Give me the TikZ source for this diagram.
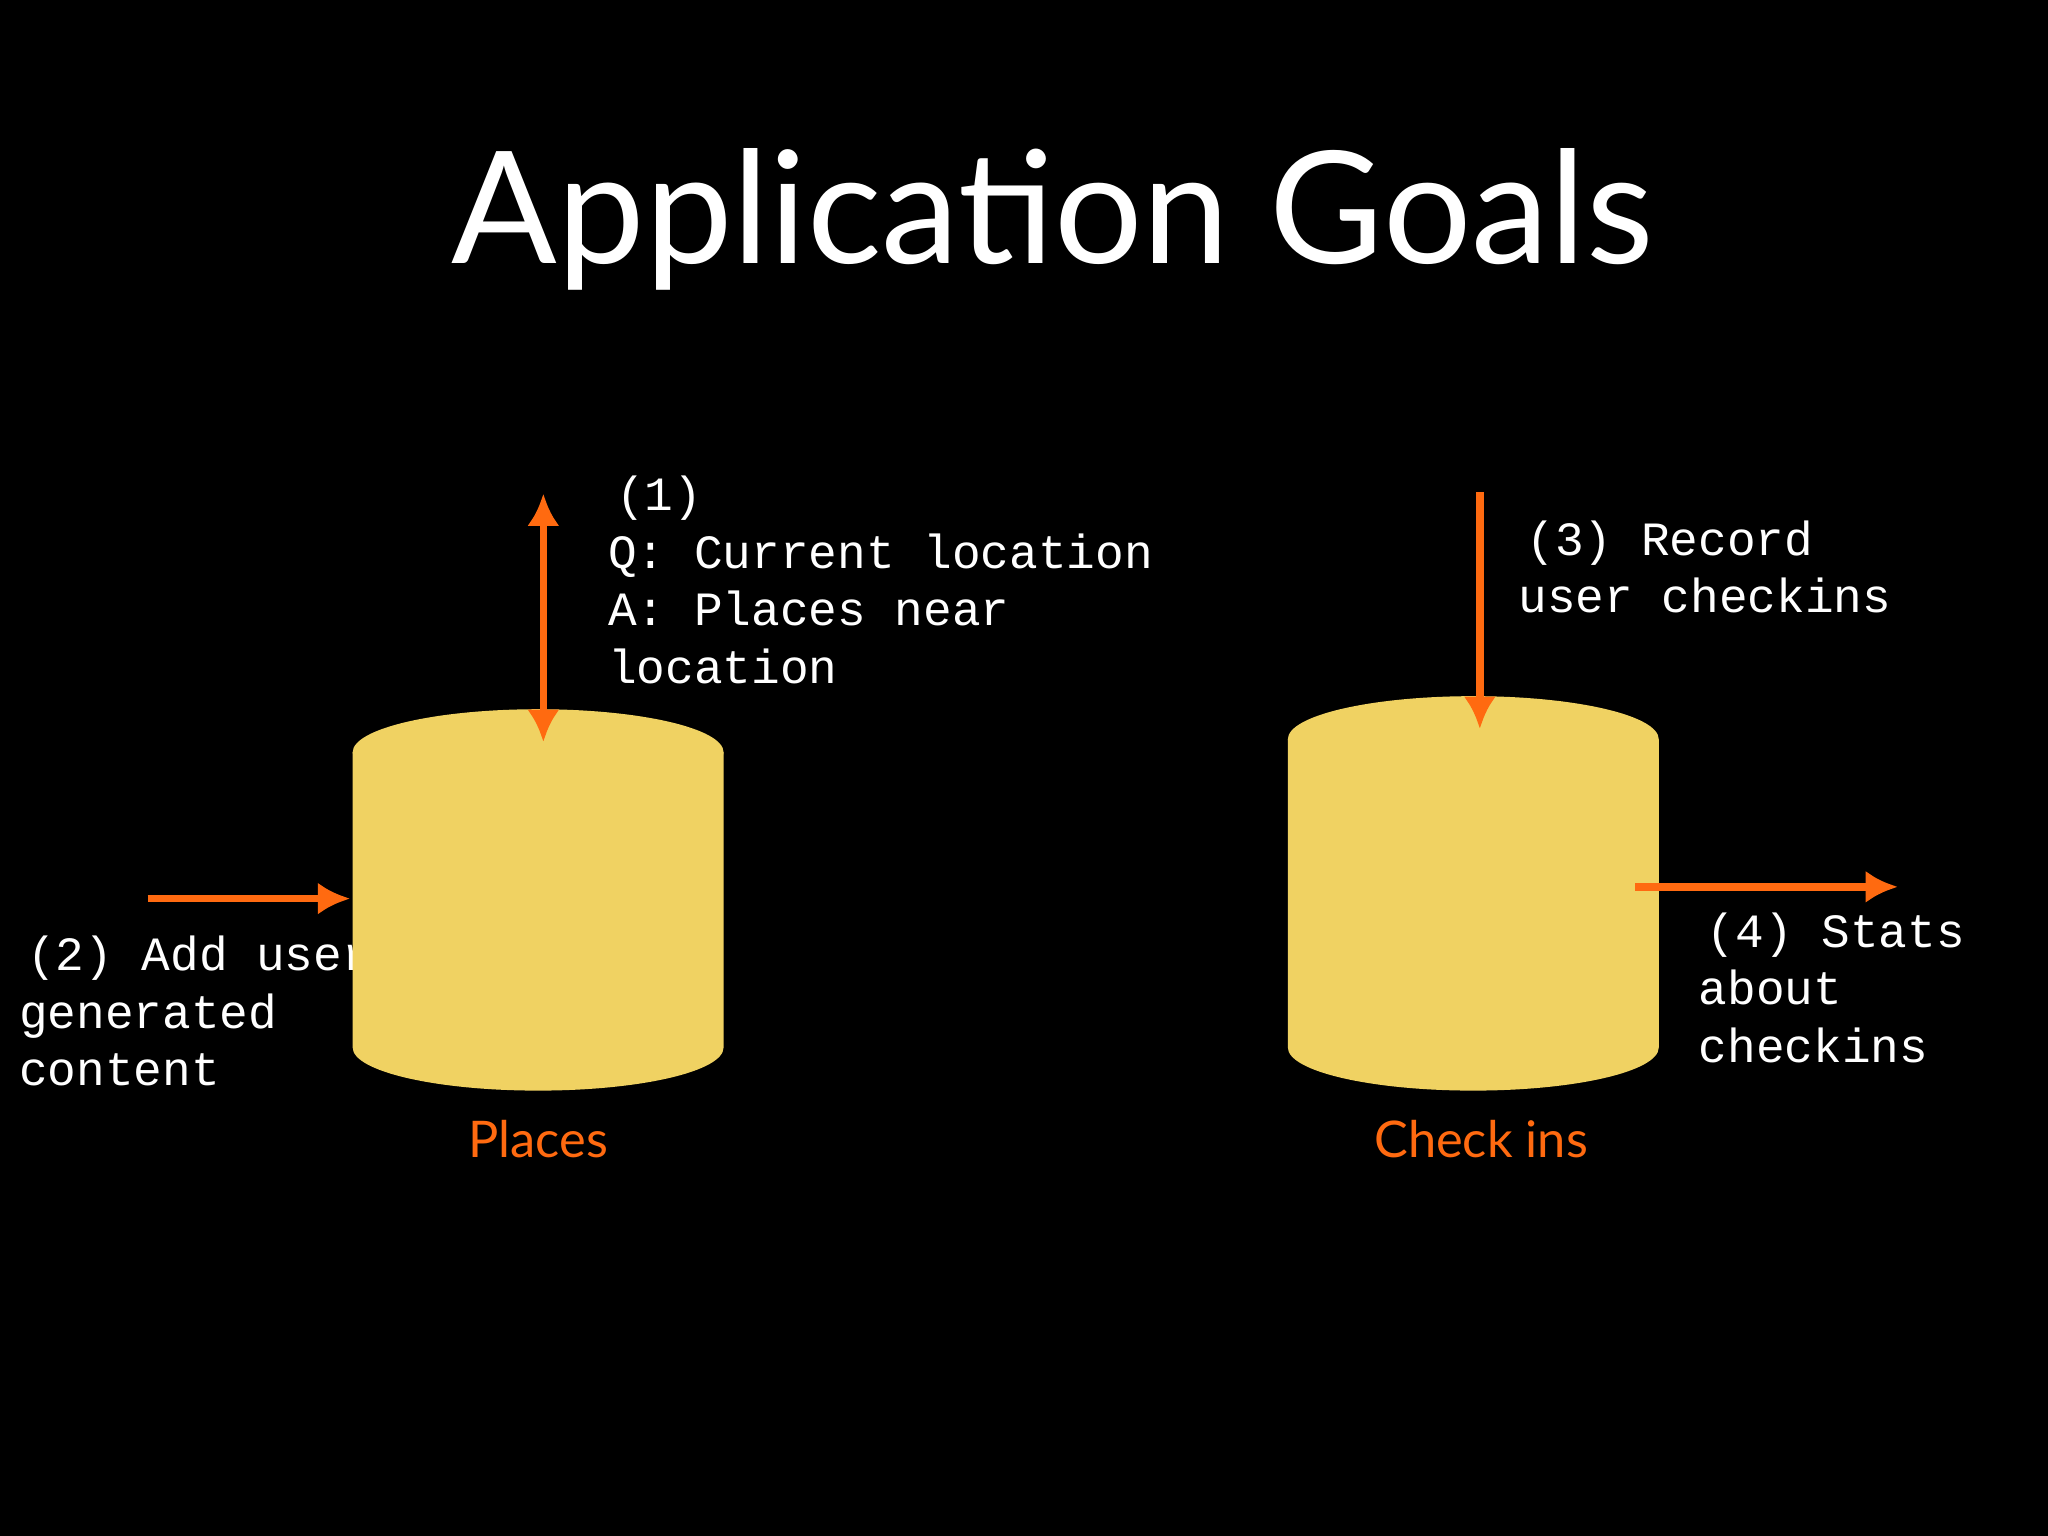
\documentclass[tikz,border=0pt]{standalone}
\usepackage{fontspec}
\setmainfont{Lato}
\newfontfamily\cour{Liberation Mono}
\usetikzlibrary{arrows.meta}
\definecolor{cyl}{HTML}{F0D262}
\definecolor{org}{HTML}{FF6A10}
\begin{document}
\begin{tikzpicture}[x=0.01cm,y=-0.01cm,
  arr/.style={org,line width=1.6pt,-{Latex[length=7pt,width=7pt]}},
  mono/.style={text=white,font=\cour\fontsize{10.4}{12.5}\selectfont,align=left,anchor=north west,inner sep=0pt},
  lab/.style={text=org,font=\fontsize{11}{13}\selectfont,inner sep=0pt}]
\fill[black] (0,0) rectangle (1568,1176);
\node[text=white,font=\fontsize{34}{40}\selectfont,inner sep=0pt] (title) at (806,168) {Application Goals};
\node[mono] (t2) at (14,716) {\hspace{0.06cm}(2) Add user\\generated\\content};
% cylinders
\fill[cyl] (270,576) -- (554,576) -- (554,802) arc[start angle=0,end angle=-180,x radius=142,y radius=-33] -- cycle;
\fill[cyl] (412,576) ellipse[x radius=142,y radius=33];
\fill[cyl] (986,566) -- (1270,566) -- (1270,802) arc[start angle=0,end angle=-180,x radius=142,y radius=-33] -- cycle;
\fill[cyl] (1128,566) ellipse[x radius=142,y radius=33];
\node[lab] (places) at (412,872) {Places};
\node[lab] (checkins) at (1134,872) {Check ins};
% arrows
\coordinate (a1) at (416,378); \coordinate (b1) at (416,568);
\draw[arr,{Latex[length=7pt,width=7pt]}-{Latex[length=7pt,width=7pt]}] (a1) -- (b1);
\coordinate (a2) at (113,688); \coordinate (b2) at (268,688);
\draw[arr] (a2) -- (b2);
\coordinate (a3) at (1133,377); \coordinate (b3) at (1133,558);
\draw[arr] (a3) -- (b3);
\coordinate (a4) at (1252,679); \coordinate (b4) at (1453,679);
\draw[arr] (a4) -- (b4);
% texts
\node[mono] (t1) at (465,364) {\hspace{0.06cm}(1)\\Q: Current location\\A: Places near\\location};
\node[mono] (t3) at (1162,398) {\hspace{0.06cm}(3) Record\\user checkins};
\node[mono] (t4) at (1300,698) {\hspace{0.06cm}(4) Stats\\about\\checkins};
\end{tikzpicture}
\end{document}
